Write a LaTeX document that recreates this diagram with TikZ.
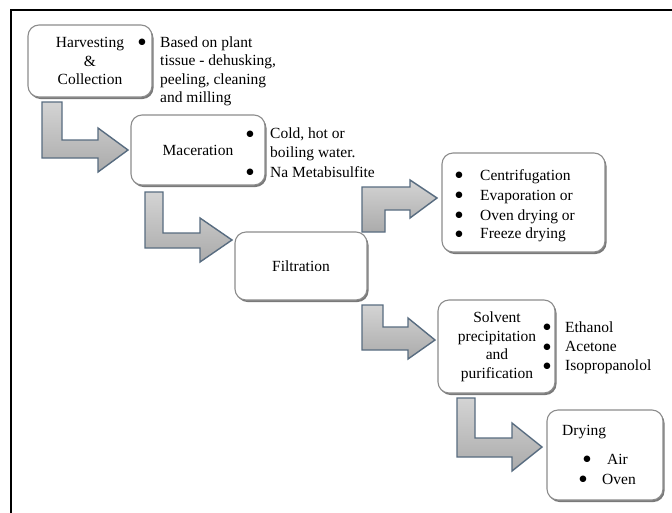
\documentclass[tikz,border=0pt]{standalone}
\usepackage{fontspec}
\setmainfont{Liberation Serif}
\newfontfamily\symfnt{DejaVu Sans}
\usetikzlibrary{shadows}
\definecolor{arrowline}{RGB}{88,108,128}
\pgfdeclareradialshading{boxglow}{\pgfpoint{0bp}{0bp}}{color(0bp)=(white); color(34bp)=(white); color(48bp)=(black!10); color(70bp)=(black!24)}
\newcommand{\blt}{{\symfnt\fontsize{8.5}{8.5}\selectfont ●}}
\begin{document}
\begin{tikzpicture}[x=1pt,y=-1pt,
  font=\fontsize{15.5}{18.5}\selectfont,
  stepbox/.style={draw=black!45, line width=1.1pt, rounded corners=11pt,
    shading=boxglow, inner sep=0pt, align=center,
    drop shadow={shadow xshift=1.5pt, shadow yshift=-2pt, fill=black!70, opacity=0.75}},
  txt/.style={anchor=base west, inner sep=0pt},
  bul/.style={anchor=center, inner sep=0pt},
  barrow/.style={draw=arrowline, line width=1.4pt, top color=black!17, bottom color=black!33, line join=miter}]
\useasboundingbox (0,0) rectangle (672,512);
\draw[line width=2pt] (11,513) -- (11,10) -- (673,10);

% boxes
\node[stepbox, minimum width=124pt, minimum height=72pt] (harv) at (90,61) {Harvesting\\\&\\Collection};
\node[stepbox, minimum width=134pt, minimum height=70pt] (mac) at (198,150) {Maceration};
\node[stepbox, minimum width=132pt, minimum height=68pt] (filt) at (301,266) {Filtration};
\node[stepbox, minimum width=163pt, minimum height=99pt] (cent) at (523.5,202.5) {};
\node[stepbox, minimum width=117pt, minimum height=93pt] (solv) at (496.5,346.5) {};
\node[stepbox, minimum width=116pt, minimum height=90pt] (dry) at (605,455) {};

% arrows
\draw[barrow] (42,102) -- (62,102) -- (62,140) -- (98,140) -- (98,128) -- (128,150) -- (98,172) -- (98,158) -- (42,158) -- cycle;
\draw[barrow] (145,192) -- (163,192) -- (163,233) -- (200,233) -- (200,218) -- (232,240) -- (200,262) -- (200,248) -- (145,248) -- cycle;
\draw[barrow] (362,232) -- (362,187) -- (410,187) -- (410,180) -- (437,198) -- (410,218) -- (410,210) -- (385,210) -- (385,232) -- cycle;
\draw[barrow] (362,305) -- (383,305) -- (383,327) -- (408,327) -- (408,318) -- (435,340) -- (408,359) -- (408,350) -- (362,350) -- cycle;
\draw[barrow] (457,398) -- (475,398) -- (475,438) -- (512,438) -- (512,423) -- (542,447) -- (512,471) -- (512,457) -- (457,457) -- cycle;

% harvesting notes
\node[bul] (hb1) at (142,42) {\blt};
\node[txt] (ht1) at (160,47) {Based on plant};
\node[txt] (ht2) at (160,65.5) {tissue - dehusking,};
\node[txt] (ht3) at (160,84) {peeling, cleaning};
\node[txt] (ht4) at (160,102.5) {and milling};

% maceration notes
\node[bul] (mb1) at (250,134) {\blt};
\node[bul] (mb2) at (250,172) {\blt};
\node[txt] (mt1) at (270,138) {Cold, hot or};
\node[txt] (mt2) at (270,157) {boiling water.};
\node[txt] (mt3) at (270,177) {Na Metabisulfite};

% centrifugation list
\node[bul] (cb1) at (459,175) {\blt};
\node[bul] (cb2) at (459,195) {\blt};
\node[bul] (cb3) at (459,215) {\blt};
\node[bul] (cb4) at (459,234) {\blt};
\node[txt] (ct1) at (480,180) {Centrifugation};
\node[txt] (ct2) at (480,200) {Evaporation or};
\node[txt] (ct3) at (480,220) {Oven drying or};
\node[txt] (ct4) at (480,238) {Freeze drying};

% solvent
\node[inner sep=0pt, align=center] (st) at (497,347) {Solvent\\precipitation\\and\\purification};
\node[bul] (sb1) at (547,327) {\blt};
\node[bul] (sb2) at (547,347) {\blt};
\node[bul] (sb3) at (547,366) {\blt};
\node[txt] (s1) at (565,332) {Ethanol};
\node[txt] (s2) at (565,351) {Acetone};
\node[txt] (s3) at (565,370) {Isopropanolol};

% drying
\node[txt] (dt) at (562,435) {Drying};
\node[bul] (db1) at (587,459) {\blt};
\node[bul] (db2) at (583,479) {\blt};
\node[txt] (d1) at (607,464) {Air};
\node[txt] (d2) at (602,484) {Oven};
\end{tikzpicture}
\end{document}
